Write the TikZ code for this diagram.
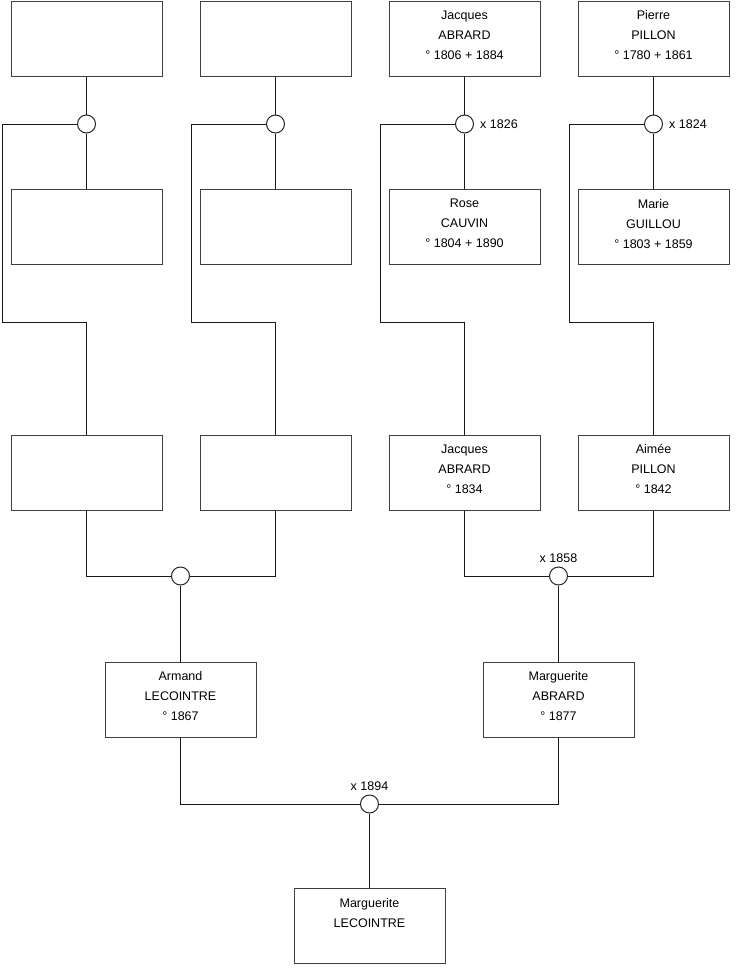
\documentclass[tikz,border=0pt]{standalone}
\usepackage{fontspec}
\setmainfont{Liberation Sans}
\usetikzlibrary{positioning}

\begin{document}
\begin{tikzpicture}[
    x=1pt, y=-1pt,
    % Styles
    person/.style={draw=black!75, fill=white, line width=1pt, align=center, minimum width=151pt, minimum height=75pt, text depth=7pt, font=\fontsize{12.5}{20}\selectfont},
    union/.style={circle, draw=black!85, fill=white, line width=1pt, minimum size=18pt, inner sep=0pt},
    wedding/.style={font=\fontsize{12.5}{15}\selectfont, inner sep=1pt},
    link/.style={draw=black!90, line width=1pt}
]
    \useasboundingbox (0,0) rectangle (740,975);

    % 1. GREAT-GRANDPARENTS (fathers on top)
    \node[person] (ggf_a) at (86.5,38.5) {};
    \node[person] (ggf_b) at (275.5,38.5) {};
    \node[person] (ggf_abrard) at (464.5,38.5) {Jacques\\ABRARD\\° 1806 + 1884};
    \node[person] (ggf_pillon) at (653.5,38.5) {Pierre\\PILLON\\° 1780 + 1861};

    % 2. GREAT-GRANDPARENTS (mothers below)
    \node[person] (ggm_a) at (86.5,227) {};
    \node[person] (ggm_b) at (275.5,227) {};
    \node[person] (ggm_cauvin) at (464.5,227) {Rose\\CAUVIN\\° 1804 + 1890};
    \node[person] (ggm_guillou) at (653.5,227) {Marie\\GUILLOU\\° 1803 + 1859};

    % 3. UNIONS OF THE TOP ROW
    \node[union] (u_a) at (86.5,124) {};
    \node[union] (u_b) at (275.5,124) {};
    \node[union] (u_abrard) at (464.5,124) {};
    \node[union] (u_pillon) at (653.5,124) {};
    \node[wedding, right=5pt of u_abrard] (w_abrard) {x 1826};
    \node[wedding, right=5pt of u_pillon] (w_pillon) {x 1824};

    % 4. GRANDPARENTS
    \node[person] (gp_a) at (86.5,472.5) {};
    \node[person] (gp_b) at (275.5,472.5) {};
    \node[person] (jacques) at (464.5,472.5) {Jacques\\ABRARD\\° 1834};
    \node[person] (aimee) at (653.5,472.5) {Aimée\\PILLON\\° 1842};

    % 5. PARENTS AND THEIR UNIONS
    \node[union] (u_left) at (180.5,576) {};
    \node[union] (u_right) at (558.5,576) {};
    \node[wedding, above=3pt of u_right] (w_right) {x 1858};
    \node[person] (armand) at (180.5,699.5) {Armand\\LECOINTRE\\° 1867};
    \node[person] (marguerite_abrard) at (558.5,699.5) {Marguerite\\ABRARD\\° 1877};

    \node[union] (u_bottom) at (369.5,804) {};
    \node[wedding, above=3pt of u_bottom] (w_bottom) {x 1894};
    \node[person] (marguerite) at (369.5,926) {Marguerite\\LECOINTRE\\~};

    % bend points of the brackets
    \coordinate (bend_a1) at (2,124);
    \coordinate (bend_a2) at (2,322);
    \coordinate (bend_b1) at (191,124);
    \coordinate (bend_b2) at (191,322);
    \coordinate (bend_c1) at (380,124);
    \coordinate (bend_c2) at (380,322);
    \coordinate (bend_d1) at (569,124);
    \coordinate (bend_d2) at (569,322);

    % 6. LINES
    \draw[link] (ggf_a.south) -- (u_a.north) (u_a.south) -- (ggm_a.north);
    \draw[link] (ggf_b.south) -- (u_b.north) (u_b.south) -- (ggm_b.north);
    \draw[link] (ggf_abrard.south) -- (u_abrard.north) (u_abrard.south) -- (ggm_cauvin.north);
    \draw[link] (ggf_pillon.south) -- (u_pillon.north) (u_pillon.south) -- (ggm_guillou.north);

    % Unions to children
    \draw[link] (u_a.west) -- (bend_a1) -- (bend_a2) -| (gp_a.north);
    \draw[link] (u_b.west) -- (bend_b1) -- (bend_b2) -| (gp_b.north);
    \draw[link] (u_abrard.west) -- (bend_c1) -- (bend_c2) -| (jacques.north);
    \draw[link] (u_pillon.west) -- (bend_d1) -- (bend_d2) -| (aimee.north);

    % Couples
    \draw[link] (gp_a.south) |- (u_left.west);
    \draw[link] (u_left.east) -| (gp_b.south);
    \draw[link] (u_left.south) -- (armand.north);
    \draw[link] (jacques.south) |- (u_right.west);
    \draw[link] (u_right.east) -| (aimee.south);
    \draw[link] (u_right.south) -- (marguerite_abrard.north);
    \draw[link] (armand.south) |- (u_bottom.west);
    \draw[link] (u_bottom.east) -| (marguerite_abrard.south);
    \draw[link] (u_bottom.south) -- (marguerite.north);

\end{tikzpicture}
\end{document}
